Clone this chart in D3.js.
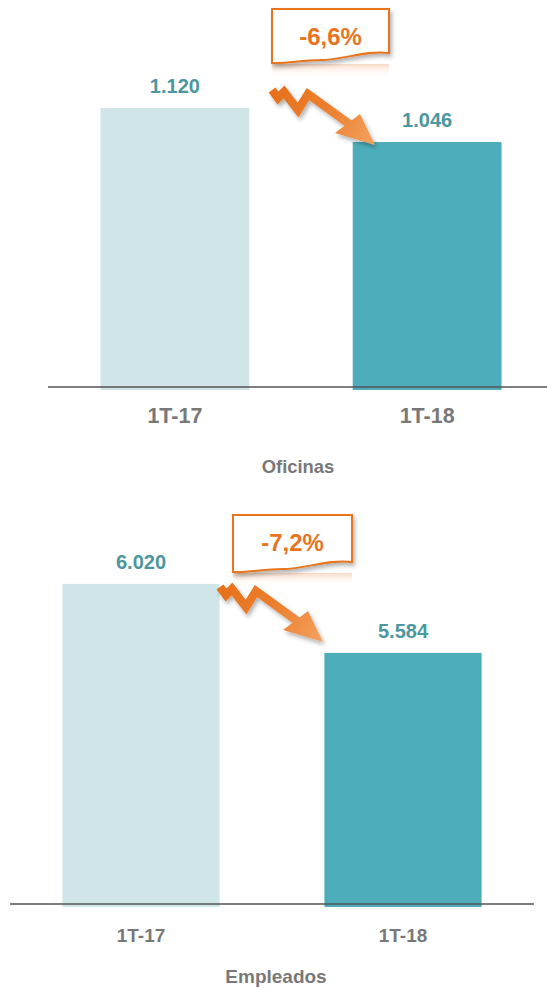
<!DOCTYPE html>
<html><head><meta charset="utf-8">
<script src="https://cdn.jsdelivr.net/npm/d3@7"></script>
<style>body{margin:0;background:#fff}svg{display:block}</style>
</head><body><svg id="c" width="547" height="988"></svg>
<script>
// ---- data ----
const categories = ["1T-17", "1T-18"];
const oficinasValues = [1120, 1046];
const empleadosValues = [6020, 5584];
const changeLabels = ["-6,6%", "-7,2%"];
const chartTitles = ["Oficinas", "Empleados"];
const oficinasDomain = [500, 1200];
const empleadosDomain = [4000, 6500];

const barColors = ["#cfe5e7", "#4dadba"];
const valueColor = "#4b979f";
const grayText = "#787878";
const orange = "#e8741f";
const FONT = "'Liberation Sans', Arial, Helvetica, sans-serif";

const svg = d3.select("#c");
const defs = svg.append("defs");
const sh = defs.append("filter").attr("id", "shadow").attr("x", "-20%").attr("y", "-20%").attr("width", "150%").attr("height", "160%");
sh.append("feDropShadow").attr("dx", 2).attr("dy", 3).attr("stdDeviation", 2).attr("flood-color", "#000").attr("flood-opacity", 0.3);
const ag = defs.append("linearGradient").attr("id", "arrowGrad").attr("gradientUnits", "userSpaceOnUse")
  .attr("x1", 0).attr("y1", 0).attr("x2", 100).attr("y2", 55);
ag.append("stop").attr("offset", "0%").attr("stop-color", "#e6701a");
ag.append("stop").attr("offset", "55%").attr("stop-color", "#ec8132");
ag.append("stop").attr("offset", "100%").attr("stop-color", "#f3a15e");
const rg = defs.append("linearGradient").attr("id", "reflGrad").attr("x1", "0").attr("y1", "0").attr("x2", "0").attr("y2", "1");
rg.append("stop").attr("offset", "0%").attr("stop-color", "#f3b58a").attr("stop-opacity", 0.5);
rg.append("stop").attr("offset", "100%").attr("stop-color", "#ffffff").attr("stop-opacity", 0);

const charts = [
  { values: oficinasValues, domain: oficinasDomain, title: chartTitles[0], change: changeLabels[0],
    xRange: [50, 552], padIn: 0.41, padOut: 0.2, yRange: [392.8, 71.2], base: 390,
    axis: { y: 387, x1: 48, x2: 547 }, valueSize: 20, catSize: 21.5, catY: 423, titleSize: 18.4, titleY: 473, titleX: 298,
    box: { x: 272, y: 9, w: 117, h: 54 }, changeX: 330.5, changeY: 45, arrow: [272, 90] },
  { values: empleadosValues, domain: empleadosDomain, title: chartTitles[1], change: changeLabels[1],
    xRange: [10, 534], padIn: 0.4, padOut: 0.2, yRange: [903.6, 507.9], base: 907,
    axis: { y: 904, x1: 10, x2: 534 }, valueSize: 20, catSize: 19, catY: 942, titleSize: 19, titleY: 983, titleX: 276,
    box: { x: 233, y: 515, w: 119, h: 57 }, changeX: 292.5, changeY: 551, arrow: [220, 587] }
];

// arrow shape (relative to its start point)
const zig = [[0, 0], [6, 8], [12, 2], [26, 20], [36, 4], [80, 36]];
const headTip = [103, 55], headL = [63, 43], headR = [88, 24];

charts.forEach(c => {
  const g = svg.append("g");
  const x = d3.scaleBand().domain(categories).range(c.xRange).paddingInner(c.padIn).paddingOuter(c.padOut);
  const y = d3.scaleLinear().domain(c.domain).range(c.yRange);

  g.selectAll("rect.bar").data(c.values).join("rect").attr("class", "bar")
    .attr("x", (d, i) => x(categories[i])).attr("width", x.bandwidth())
    .attr("y", d => y(d)).attr("height", d => c.base - y(d))
    .attr("fill", (d, i) => barColors[i]);

  g.append("line").attr("x1", c.axis.x1).attr("x2", c.axis.x2).attr("y1", c.axis.y).attr("y2", c.axis.y)
    .attr("stroke", "#555").attr("stroke-width", 1.3);

  g.selectAll("text.val").data(c.values).join("text").attr("class", "val")
    .attr("x", (d, i) => x(categories[i]) + x.bandwidth() / 2).attr("y", d => y(d) - 15)
    .attr("text-anchor", "middle").attr("font-family", FONT).attr("font-weight", "bold")
    .attr("font-size", c.valueSize).attr("fill", valueColor)
    .text(d => d3.format(",")(d).replace(/,/g, "."));

  g.selectAll("text.cat").data(categories).join("text").attr("class", "cat")
    .attr("x", d => x(d) + x.bandwidth() / 2).attr("y", c.catY)
    .attr("text-anchor", "middle").attr("font-family", FONT).attr("font-weight", "bold")
    .attr("font-size", c.catSize).attr("fill", grayText).text(d => d);

  g.append("text").attr("x", c.titleX).attr("y", c.titleY).attr("text-anchor", "middle")
    .attr("font-family", FONT).attr("font-weight", "bold").attr("font-size", c.titleSize)
    .attr("fill", grayText).text(c.title);

  // arrow
  const a = g.append("g").attr("transform", `translate(${c.arrow[0]},${c.arrow[1]})`).attr("filter", "url(#shadow)");
  a.append("path").attr("d", d3.line()(zig)).attr("fill", "none").attr("stroke", "url(#arrowGrad)")
    .attr("stroke-width", 8.5).attr("stroke-linejoin", "miter").attr("stroke-miterlimit", 6);
  a.append("path").attr("d", d3.line()([headL, headTip, headR]) + "Z").attr("fill", "url(#arrowGrad)");

  // callout box
  const b = c.box;
  g.append("rect").attr("x", b.x).attr("y", b.y + b.h + 1).attr("width", b.w).attr("height", 13).attr("fill", "url(#reflGrad)");
  const p = `M${b.x},${b.y} H${b.x + b.w} V${b.y + b.h - 10}
     C${b.x + b.w * 0.8},${b.y + b.h - 13} ${b.x + b.w * 0.6},${b.y + b.h - 3} ${b.x + b.w * 0.42},${b.y + b.h - 3}
     C${b.x + b.w * 0.25},${b.y + b.h - 3} ${b.x + b.w * 0.12},${b.y + b.h + 1} ${b.x},${b.y + b.h} Z`;
  g.append("path").attr("d", p).attr("fill", "#fff").attr("stroke", orange).attr("stroke-width", 2).attr("filter", "url(#shadow)");
  g.append("text").attr("x", c.changeX).attr("y", c.changeY).attr("text-anchor", "middle")
    .attr("font-family", FONT).attr("font-weight", "bold").attr("font-size", 24).attr("fill", orange)
    .text(c.change);
});
</script></body></html>
